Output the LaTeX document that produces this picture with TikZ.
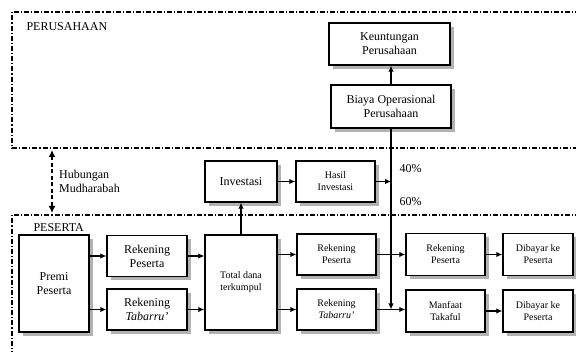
\documentclass[tikz,border=0pt]{standalone}
\usepackage{fontspec}
\setmainfont{Liberation Serif}
\usetikzlibrary{arrows.meta,shadows}

\begin{document}
\begin{tikzpicture}[
        x=1pt, y=-1pt,
        every node/.style={font=\fontsize{12}{14}\selectfont},
        box/.style={rectangle, draw=black, line width=1.3pt, fill=white, align=center,
            drop shadow={shadow xshift=4pt, shadow yshift=-4pt, fill=gray!60, opacity=1}},
        smallbox/.style={box, font=\fontsize{10}{12}\selectfont},
        region/.style={line width=1.2pt, dash pattern=on 5pt off 2pt on 1.2pt off 2pt},
        arrow/.style={line width=1.3pt, -{Latex[length=6pt,width=5.5pt]}},
        dashed_arrow/.style={line width=1.6pt, dash pattern=on 4pt off 2.5pt, {Latex[length=7pt,width=7pt]}-{Latex[length=7pt,width=7pt]}}
        ]

        \clip (0,0) rectangle (576,352);

        % The two regions
        \draw[region] (590,12) -- (12,12) -- (12,148) -- (590,148);
        \draw[region] (590,215) -- (12,215) -- (12,360);
        \node[anchor=west] (Perusahaan) at (23,27) {PERUSAHAAN};
        \node[anchor=west] (Peserta) at (30,228) {PESERTA};

        % Company side
        \node[box, minimum width=121, minimum height=42] (Keuntungan) at (389.5,44) {Keuntungan\\Perusahaan};
        \node[box, minimum width=120, minimum height=43] (Biaya) at (391,106.5) {Biaya Operasional\\Perusahaan};

        % Investment row
        \node[box, minimum width=72, minimum height=41] (Investasi) at (241,181.5) {Investasi};
        \node[smallbox, minimum width=79, minimum height=41] (Hasil) at (335.5,181.5) {Hasil\\Investasi};
        \node[anchor=west] (Empat) at (396,169) {40\%};
        \node[anchor=west] (Enam) at (396,202) {60\%};

        % Participant side
        \node[box, minimum width=70, minimum height=97] (Premi) at (54,283.5) {Premi\\Peserta};
        \node[box, minimum width=80, minimum height=41] (RP1) at (147,256) {Rekening\\Peserta};
        \node[box, minimum width=80, minimum height=41] (RT1) at (147,309.5) {Rekening\\\textit{Tabarru'}};
        \node[smallbox, minimum width=72, minimum height=95] (Total) at (241,282.5) {Total dana\\terkumpul};
        \node[smallbox, minimum width=79, minimum height=41] (RP2) at (336.5,254.5) {Rekening\\Peserta};
        \node[smallbox, minimum width=79, minimum height=41] (RT2) at (336.5,309.5) {Rekening\\\textit{Tabarru'}};
        \node[smallbox, minimum width=79, minimum height=42] (RP3) at (445.5,254.5) {Rekening\\Peserta};
        \node[smallbox, minimum width=79, minimum height=42] (Manfaat) at (445.5,311) {Manfaat\\Takaful};
        \node[smallbox, minimum width=70, minimum height=42] (DB1) at (538,254.5) {Dibayar ke\\Peserta};
        \node[smallbox, minimum width=70, minimum height=42] (DB2) at (538,311) {Dibayar ke\\Peserta};

        % Mudharabah link
        \coordinate (HubTop) at (52,150);
        \coordinate (HubBottom) at (52,213);
        \draw[dashed_arrow] (HubTop) -- node[right=3pt, align=left] {Hubungan\\Mudharabah} (HubBottom);

        % Flows
        \draw[arrow] (Premi.east |- RP1) -- (RP1);
        \draw[arrow] (Premi.east |- RT1) -- (RT1);
        \draw[arrow] (RP1) -- (RP1 -| Total.west);
        \draw[arrow] (RT1) -- (RT1 -| Total.west);
        \draw[arrow] (Total.east |- RP2) -- (RP2);
        \draw[arrow] (Total.east |- RT2) -- (RT2);
        \draw[arrow] (Total) -- (Investasi);
        \draw[arrow] (Investasi) -- (Hasil);
        \draw[arrow] (Hasil) -- (Hasil -| Biaya.south);
        \draw[arrow] (Biaya.north) -- (Biaya.north |- Keuntungan.south);
        \draw[arrow] (Biaya.south) -- (Biaya.south |- RT2.east);
        \draw[arrow] (RP2) -- (RP3);
        \draw[arrow] (RT2) -- (RT2 -| Manfaat.west);
        \draw[arrow] (RP3) -- (DB1);
        \draw[arrow] (Manfaat) -- (DB2);

    \end{tikzpicture}
\end{document}
